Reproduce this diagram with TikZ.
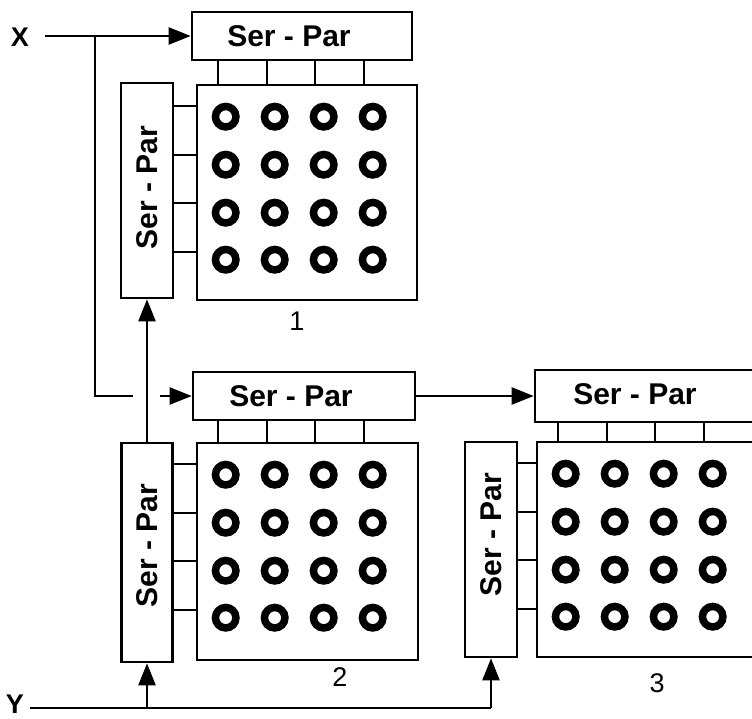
\documentclass[tikz,border=0pt]{standalone}
\usepackage{fontspec}
\setmainfont{Liberation Sans}
\usetikzlibrary{arrows.meta}
\newcommand{\sptext}[1]{\hspace*{#1}Ser - Par}
\newcommand{\vsptext}[1]{\rotatebox{90}{Ser - Par\hspace*{#1}}}
\begin{document}
\begin{tikzpicture}[x=1pt,y=-1pt,
  box/.style={draw,line width=2.6pt,inner sep=0pt,font=\fontsize{30}{30}\selectfont\bfseries},
  wire/.style={line width=2.2pt},
  ring/.style={line width=7.5pt},
  arr/.style={line width=2.2pt,-{Triangle[length=22pt,width=17pt]}},
  lab/.style={font=\fontsize{27}{27}\selectfont\bfseries,inner sep=0pt},
  numlab/.style={font=\fontsize{27}{27}\selectfont,inner sep=0pt}]
\useasboundingbox (0,0) rectangle (752,718);
\clip (0,0) rectangle (752,718);
% block 1
\node[box,minimum width=220pt,minimum height=48pt] (t1) at (302,36) {\sptext{-26pt}};
\node[box,minimum width=52pt,minimum height=215pt] (l1) at (147,190.5) {\vsptext{-6pt}};
\node[box,minimum width=220pt,minimum height=215pt] (m1) at (307,192.5) {};
% block 2
\node[box,minimum width=222pt,minimum height=48pt] (t2) at (304,396) {\sptext{-26pt}};
\node[box,minimum width=51pt,minimum height=219pt] (l2) at (147,552.5) {\vsptext{-14pt}};
\node[box,minimum width=221pt,minimum height=217pt] (m2) at (307.5,551.5) {};
% block 3
\node[box,minimum width=222pt,minimum height=52pt] (t3) at (646,396) {};
\node[box,draw=none] (t3txt) at (635,394) {Ser - Par};
\node[box,minimum width=52pt,minimum height=215pt] (l3) at (491,549.5) {\vsptext{-30pt}};
\node[box,minimum width=220pt,minimum height=215pt] (m3) at (647,549.5) {};
% internal wiring and cells
\foreach \b in {1,2,3}{
  \foreach \d in {22,71,119,168}{
    \draw[wire] ([xshift=\d pt]m\b.north west) -- ([xshift=\d pt]m\b.north west |- t\b.south);
    \draw[wire] ([yshift=-\d pt]m\b.north west) -- ([yshift=-\d pt]m\b.north west -| l\b.east);
  }
  \foreach \dx in {30,79,128,177}{
    \foreach \dy in {33,81,129,176}{
      \draw[ring] ([xshift=\dx pt,yshift=-\dy pt]m\b.north west) circle (10.25pt);
    }
  }
}
% labels
\node[lab] (X) at (20,37) {X};
\node[lab] (Y) at (15,704) {Y};
\node[numlab] (n1) at (297,321) {1};
\node[numlab] (n2) at (340,677) {2};
\node[numlab] (n3) at (657,683) {3};
% X input
\coordinate (xin) at (45,36);
\coordinate (j1) at (95,36);
\coordinate (h1) at (133,396);
\coordinate (h2) at (160,396);
\draw[arr] (xin) -- (t1.west);
\draw[wire] (j1) |- (h1);
\draw[arr] (h2) -- (t2.west);
\draw[arr] (t2.east) -- (t3.west);
\draw[arr] (l2.north) -- (l1.south);
% Y input
\coordinate (yin) at (30,708);
\coordinate (yc) at (491,708);
\draw[wire] (yin) -- (yc);
\draw[arr] (yc) -- (l3.south);
\draw[arr] (l2.south |- yin) -- (l2.south);
\end{tikzpicture}
\end{document}
